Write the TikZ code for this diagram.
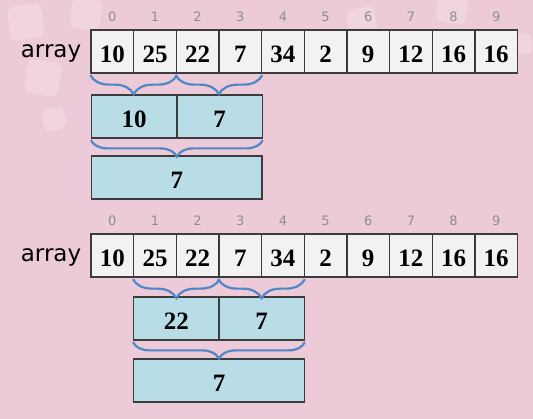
\documentclass[tikz,border=0pt]{standalone}
\usepackage{fontspec}
\usepackage{tikz}
\usetikzlibrary{decorations.pathreplacing}
\newfontfamily\numfont{Liberation Serif}
\newfontfamily\tagfont{DejaVu Sans}
\definecolor{Blush}{HTML}{EDCAD8}
\definecolor{CellGrey}{HTML}{F2F2F2}
\definecolor{PaleBlue}{HTML}{B8DDE7}
\definecolor{Frame}{HTML}{3C3C3C}
\definecolor{BraceBlue}{HTML}{4F86C6}
\definecolor{IndexGrey}{HTML}{8E8E8E}

\begin{document}
\begin{tikzpicture}[x=1pt,y=-1pt,
    glint/.style={fill=white,fill opacity=0.2,rounded corners=6pt},
    cell/.style={draw=Frame,line width=1.3pt,fill=CellGrey,minimum width=42.65pt,minimum height=43pt,inner sep=0pt,text height=22pt,text depth=0pt,font=\numfont\bfseries\fontsize{25}{25}\selectfont,label distance=8pt},
    part/.style={cell,fill=PaleBlue,minimum width=85.3pt},
    whole/.style={cell,fill=PaleBlue,minimum width=170.6pt},
    idx/.style={draw=none,fill=none,inner sep=0pt,minimum width=0pt,minimum height=0pt,text height=9.5pt,text depth=0pt,yshift=8pt,text=IndexGrey,font=\tagfont\fontsize{13}{13}\selectfont},
    rowname/.style={font=\tagfont\fontsize{23}{23}\selectfont},
    brc/.style={draw=BraceBlue,line width=2.2pt,decorate,decoration={brace,amplitude=#1,raise=1.5pt}},
    brc/.default=18pt]
    \fill[Blush] (0,0) rectangle (533,419);
    \useasboundingbox (0,0) rectangle (533,419);

    \fill[glint,rotate around={8:(26,22)}] (9,5) rectangle (43,39);
    \fill[glint,rotate around={-8:(43,78)}] (26,61) rectangle (60,95);
    \fill[glint,rotate around={8:(54,119)}] (43,108) rectangle (65,130);
    \fill[glint,rotate around={-6:(86,14)}] (71,-1) rectangle (101,29);
    \fill[glint,rotate around={10:(362,22)}] (348,8) rectangle (376,36);
    \fill[glint,rotate around={-10:(452,8)}] (437,-7) rectangle (467,23);
    \fill[glint,rotate around={8:(522,44)}] (512,34) rectangle (532,54);

    \node[rowname,anchor=base] (lblA) at (51,58) {array};
    \node[cell,label={[idx]above:0}] (a0) at (112.3,51.5) {10};
    \node[cell,label={[idx]above:1}] (a1) at (155.0,51.5) {25};
    \node[cell,label={[idx]above:2}] (a2) at (197.6,51.5) {22};
    \node[cell,label={[idx]above:3}] (a3) at (240.3,51.5) {7};
    \node[cell,label={[idx]above:4}] (a4) at (282.9,51.5) {34};
    \node[cell,label={[idx]above:5}] (a5) at (325.6,51.5) {2};
    \node[cell,label={[idx]above:6}] (a6) at (368.2,51.5) {9};
    \node[cell,label={[idx]above:7}] (a7) at (410.9,51.5) {12};
    \node[cell,label={[idx]above:8}] (a8) at (453.5,51.5) {16};
    \node[cell,label={[idx]above:9}] (a9) at (496.2,51.5) {16};

    \node[part] (b0) at (134.2,116.5) {10};
    \node[part] (b1) at (219.5,116.5) {7};
    \node[whole] (c0) at (176.8,177.5) {7};

    \draw[brc=19pt] (a1.south east) -- (a0.south west);
    \draw[brc=19pt] (a3.south east) -- (a2.south west);
    \draw[brc=16.5pt] (b1.south east) -- (b0.south west);

    \node[rowname,anchor=base] (lblB) at (51,262) {array};
    \node[cell,label={[idx]above:0}] (d0) at (112.3,255.5) {10};
    \node[cell,label={[idx]above:1}] (d1) at (155.0,255.5) {25};
    \node[cell,label={[idx]above:2}] (d2) at (197.6,255.5) {22};
    \node[cell,label={[idx]above:3}] (d3) at (240.3,255.5) {7};
    \node[cell,label={[idx]above:4}] (d4) at (282.9,255.5) {34};
    \node[cell,label={[idx]above:5}] (d5) at (325.6,255.5) {2};
    \node[cell,label={[idx]above:6}] (d6) at (368.2,255.5) {9};
    \node[cell,label={[idx]above:7}] (d7) at (410.9,255.5) {12};
    \node[cell,label={[idx]above:8}] (d8) at (453.5,255.5) {16};
    \node[cell,label={[idx]above:9}] (d9) at (496.2,255.5) {16};

    \node[part] (e0) at (176.3,318.5) {22};
    \node[part] (e1) at (261.6,318.5) {7};
    \node[whole] (f0) at (219.0,380.5) {7};

    \draw[brc=19pt] (d2.south east) -- (d1.south west);
    \draw[brc=19pt] (d4.south east) -- (d3.south west);
    \draw[brc=16.5pt] (e1.south east) -- (e0.south west);
\end{tikzpicture}
\end{document}
